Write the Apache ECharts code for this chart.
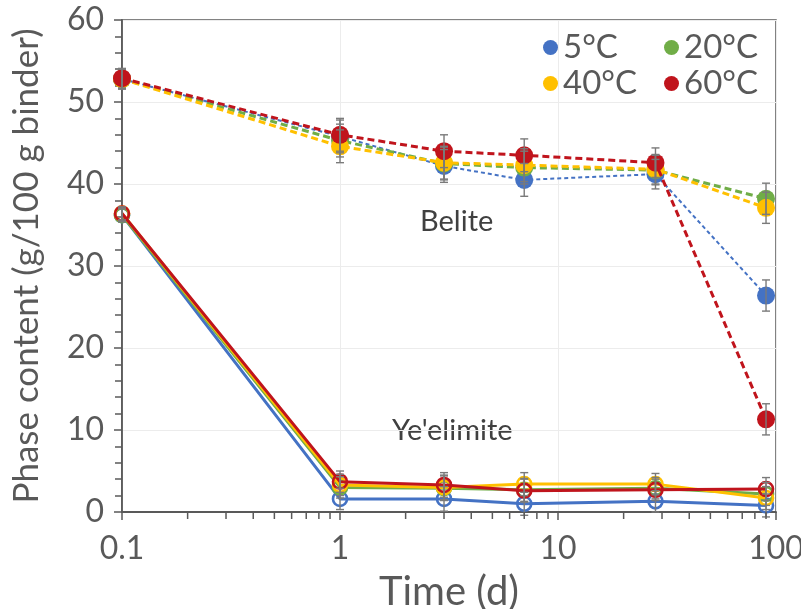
<!DOCTYPE html>
<html>
<head>
<meta charset="utf-8">
<script src="https://cdn.jsdelivr.net/npm/echarts@6/dist/echarts.min.js"></script>
<style>
  html, body { margin: 0; padding: 0; background: #fff; }
  #chart { width: 801px; height: 609px; }
</style>
</head>
<body>
<div id="chart"></div>
<script>
// Hydration ages (days) and temperatures
const times = [0.1, 1, 3, 7, 28, 90];
const temps = ['5°C', '20°C', '40°C', '60°C'];
const colors = ['#4472C4', '#70AD47', '#FFC000', '#C0141C'];

// Belite content (g/100 g binder), one array per temperature
const belite5  = [52.8, 45.8, 42.2, 40.5, 41.2, 26.4];
const belite20 = [52.8, 45.3, 42.5, 42.0, 41.7, 38.2];
const belite40 = [52.8, 44.6, 42.6, 42.3, 41.8, 37.1];
const belite60 = [52.9, 46.0, 44.0, 43.5, 42.6, 11.3];
const beliteErr = [1.2, 2.0, 2.0, 2.0, 1.8, 1.9];

// Ye'elimite content (g/100 g binder)
const yee5  = [36.2, 1.6, 1.6, 1.0, 1.3, 0.8];
const yee20 = [36.2, 3.0, 2.9, 2.7, 2.9, 2.2];
const yee40 = [36.4, 3.3, 3.0, 3.4, 3.4, 1.7];
const yee60 = [36.4, 3.7, 3.3, 2.6, 2.7, 2.8];
const yeeErr = [0.8, 1.3, 1.5, 1.4, 1.3, 1.4];

// Axis tick labels
const xTickLabels = ['0.1', '1', '10', '100'];
const yTickLabels = ['0', '10', '20', '30', '40', '50', '60'];

const beliteSets = [belite5, belite20, belite40, belite60];
const yeeSets = [yee5, yee20, yee40, yee60];

const FONT = 'Lato';
const AXIS_COLOR = '#595959';
const TEXT_COLOR = '#595959';

const pairs = (vals) => vals.map((v, i) => [times[i], v]);

// minor log ticks on the time axis: 2..9 within each decade
const minorTicks = [];
[0.1, 1, 10].forEach(d => { for (let k = 2; k <= 9; k++) minorTicks.push([+(d * k).toPrecision(3)]); });

function errRows(vals, err) {
  return vals.map((v, i) => [times[i], v - err[i], v + err[i]]);
}

function renderErr(params, api) {
  const x = api.value(0);
  const lo = api.coord([x, api.value(1)]);
  const hi = api.coord([x, api.value(2)]);
  const cap = 4;
  const style = { stroke: '#7a7a7a', lineWidth: 1.4 };
  return {
    type: 'group',
    children: [
      { type: 'line', shape: { x1: lo[0], y1: lo[1], x2: hi[0], y2: hi[1] }, style },
      { type: 'line', shape: { x1: lo[0] - cap, y1: lo[1], x2: lo[0] + cap, y2: lo[1] }, style },
      { type: 'line', shape: { x1: hi[0] - cap, y1: hi[1], x2: hi[0] + cap, y2: hi[1] }, style }
    ]
  };
}

const series = [];

// ye'elimite: solid lines with open circles
yeeSets.forEach((vals, i) => {
  series.push({
    name: temps[i],
    type: 'line',
    data: pairs(vals),
    symbol: 'circle',
    symbolSize: 14,
    lineStyle: { color: colors[i], width: 3 },
    itemStyle: { color: 'rgba(255,255,255,0)', borderColor: colors[i], borderWidth: 2.6 },
    emphasis: { disabled: true },
    z: 3 + i
  });
});

// belite: dashed lines with filled circles
beliteSets.forEach((vals, i) => {
  series.push({
    name: temps[i],
    type: 'line',
    data: pairs(vals),
    symbol: 'circle',
    symbolSize: 18,
    lineStyle: { color: colors[i], width: i === 0 ? 2 : 3, type: i === 0 ? [4, 3] : [7, 4] },
    itemStyle: { color: colors[i], borderWidth: 0 },
    emphasis: { disabled: true },
    z: 3 + i
  });
});

// error bars
beliteSets.forEach((vals) => {
  series.push({ type: 'custom', renderItem: renderErr, data: errRows(vals, beliteErr),
    encode: { x: 0, y: [1, 2] }, z: 10, silent: true });
});
yeeSets.forEach((vals) => {
  series.push({ type: 'custom', renderItem: renderErr, data: errRows(vals, yeeErr),
    encode: { x: 0, y: [1, 2] }, z: 10, silent: true });
});

// minor ticks below the time axis
series.push({
  type: 'custom',
  data: minorTicks,
  encode: { x: 0 },
  clip: false,
  silent: true,
  z: 12,
  renderItem: (params, api) => {
    const p = api.coord([api.value(0), 0]);
    return { type: 'line', shape: { x1: p[0], y1: p[1], x2: p[0], y2: p[1] + 7 },
      style: { stroke: AXIS_COLOR, lineWidth: 1.5 } };
  }
});

// one legend block per temperature, arranged in two columns
const legendPos = [[538, 26], [659, 26], [538, 62], [659, 62]];
const legends = temps.map((t, i) => ({
  data: [{ name: t, icon: 'circle', itemStyle: { color: colors[i], borderWidth: 0 } }],
  left: legendPos[i][0],
  top: legendPos[i][1],
  itemWidth: 15,
  itemHeight: 15,
  selectedMode: false,
  textStyle: { fontFamily: FONT, fontSize: 33, color: TEXT_COLOR }
}));

const chart = echarts.init(document.getElementById('chart'), null, { renderer: 'canvas' });
chart.setOption({
  animation: false,
  backgroundColor: '#fff',
  grid: { left: 122, right: 25, top: 20, bottom: 97, show: true, containLabel: false,
          outerBoundsMode: 'none',
          borderColor: AXIS_COLOR, borderWidth: 1.5, backgroundColor: 'transparent' },
  legend: legends,
  xAxis: {
    type: 'log',
    logBase: 10,
    min: 0.1,
    max: 100,
    name: 'Time (d)',
    nameLocation: 'middle',
    nameGap: 60,
    nameTextStyle: { fontFamily: FONT, fontSize: 40, color: TEXT_COLOR },
    axisLine: { lineStyle: { color: AXIS_COLOR, width: 1.8 } },
    axisTick: { show: true, length: 8, lineStyle: { color: AXIS_COLOR, width: 1.5 } },
    axisLabel: {
      fontFamily: FONT, fontSize: 32, color: TEXT_COLOR, margin: 21,
      formatter: (v) => {
        const k = Math.round(Math.log10(v)) + 1;
        return xTickLabels[k] !== undefined ? xTickLabels[k] : '';
      }
    },
    splitLine: { show: true, lineStyle: { color: '#ececec', width: 1 } }
  },
  yAxis: {
    type: 'value',
    min: 0,
    max: 60,
    interval: 10,
    name: 'Phase content (g/100 g binder)',
    nameLocation: 'middle',
    nameGap: 78,
    nameTextStyle: { fontFamily: FONT, fontSize: 35, color: TEXT_COLOR },
    axisLine: { show: true, lineStyle: { color: AXIS_COLOR, width: 1.8 } },
    axisTick: { show: true, length: 8, lineStyle: { color: AXIS_COLOR, width: 1.5 } },
    minorTick: { show: true, splitNumber: 5, length: 7, lineStyle: { color: AXIS_COLOR, width: 1.5 } },
    axisLabel: {
      fontFamily: FONT, fontSize: 32, color: TEXT_COLOR, margin: 18,
      formatter: (v) => yTickLabels[Math.round(v / 10)]
    },
    splitLine: { show: true, lineStyle: { color: '#ececec', width: 1 } }
  },
  graphic: [
    { type: 'text', left: 420, top: 207, style: { text: 'Belite', fontFamily: FONT, fontSize: 29, fill: '#404040' } },
    { type: 'text', left: 392, top: 416, style: { text: "Ye'elimite", fontFamily: FONT, fontSize: 29, fill: '#404040' } }
  ],
  series
});
</script>
</body>
</html>
